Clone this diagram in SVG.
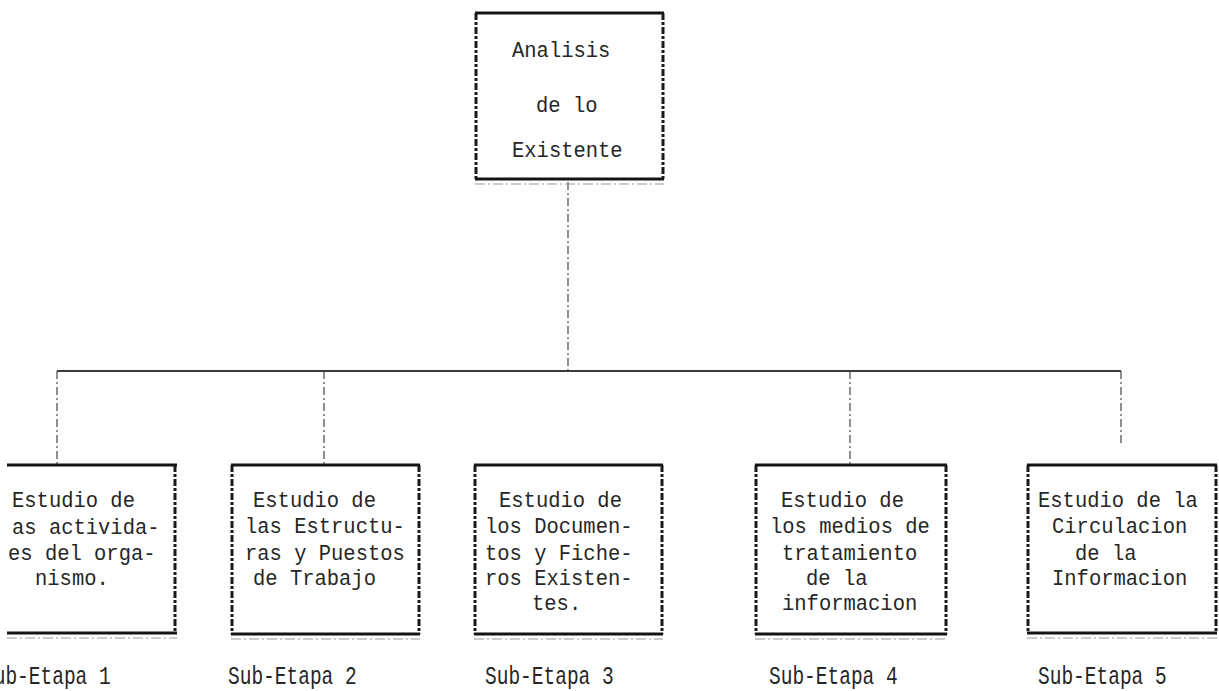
<svg xmlns="http://www.w3.org/2000/svg" width="1219" height="691" viewBox="0 0 1219 691">
  <style>
    .bg { fill: #ffffff; }
    .edge-h { stroke: #141414; stroke-width: 3; fill: none; }
    .edge-v { stroke: #1a1a1a; stroke-width: 3; fill: none; stroke-dasharray: 7 2 3 2; }
    .edge-shadow { stroke: #9a9a9a; stroke-width: 1.2; fill: none; stroke-dasharray: 10 3 2 3; }
    .txt { font-family: "Liberation Mono", "DejaVu Sans Mono", monospace; font-size: 20.5px; fill: #262626; }
    .lbl { font-family: "Liberation Mono", "DejaVu Sans Mono", monospace; font-size: 19.5px; fill: #262626; }
    .wire { stroke: #555555; stroke-width: 1.3; fill: none; stroke-dasharray: 8 3 2 3; }
    .bus { stroke: #3a3a3a; stroke-width: 2; fill: none; }
  </style>
  <rect class="bg" x="0" y="0" width="1219" height="691"/>

  <!-- connectors -->
  <g id="connectors">
    <line class="wire" x1="568" y1="182" x2="568" y2="371"/>
    <line class="bus" x1="57" y1="371" x2="1121" y2="371"/>
    <line class="wire" x1="57" y1="371" x2="57" y2="464"/>
    <line class="wire" x1="324" y1="371" x2="324" y2="464"/>
    <line class="wire" x1="850" y1="371" x2="850" y2="464"/>
    <line class="wire" x1="1121" y1="371" x2="1121" y2="443"/>
  </g>

  <!-- root node -->
  <g id="node-analisis">
    <line class="edge-h" x1="475" y1="13" x2="664" y2="13"/>
    <line class="edge-h" x1="475" y1="179" x2="664" y2="179"/>
    <line class="edge-v" x1="476" y1="13" x2="476" y2="179"/>
    <line class="edge-v" x1="663" y1="13" x2="663" y2="179"/>
    <line class="edge-shadow" x1="475" y1="184" x2="664" y2="184"/>
    <text class="txt" transform="translate(512,57) scale(1,1.12)">Analisis</text>
    <text class="txt" transform="translate(536,112) scale(1,1.12)">de lo</text>
    <text class="txt" transform="translate(512,157) scale(1,1.12)">Existente</text>
  </g>

  <!-- sub-stage 1 (left side runs off the sheet) -->
  <g id="node-sub1">
    <line class="edge-h" x1="7" y1="465" x2="177" y2="465"/>
    <line class="edge-h" x1="7" y1="633" x2="177" y2="633"/>
    <line class="edge-v" x1="175" y1="465" x2="175" y2="633"/>
    <line class="edge-shadow" x1="7" y1="638" x2="177" y2="638"/>
    <text class="txt" transform="translate(12,507) scale(1,1.12)">Estudio de</text>
    <text class="txt" transform="translate(12,534) scale(1,1.12)">as activida-</text>
    <text class="txt" transform="translate(8,560) scale(1,1.12)">es del orga-</text>
    <text class="txt" transform="translate(35,585) scale(1,1.12)">nismo.</text>
    <text class="lbl" transform="translate(-18,684) scale(1,1.3)">Sub-Etapa 1</text>
  </g>

  <!-- sub-stage 2 -->
  <g id="node-sub2">
    <line class="edge-h" x1="231" y1="465" x2="420" y2="465"/>
    <line class="edge-h" x1="231" y1="634" x2="420" y2="634"/>
    <line class="edge-v" x1="232" y1="465" x2="232" y2="634"/>
    <line class="edge-v" x1="419" y1="465" x2="419" y2="634"/>
    <line class="edge-shadow" x1="231" y1="639" x2="420" y2="639"/>
    <text class="txt" transform="translate(253,507) scale(1,1.12)">Estudio de</text>
    <text class="txt" transform="translate(245,533) scale(1,1.12)">las Estructu-</text>
    <text class="txt" transform="translate(245,560) scale(1,1.12)">ras y Puestos</text>
    <text class="txt" transform="translate(253,585) scale(1,1.12)">de Trabajo</text>
    <text class="lbl" transform="translate(228,684) scale(1,1.3)">Sub-Etapa 2</text>
  </g>

  <!-- sub-stage 3 -->
  <g id="node-sub3">
    <line class="edge-h" x1="474" y1="465" x2="663" y2="465"/>
    <line class="edge-h" x1="474" y1="634" x2="663" y2="634"/>
    <line class="edge-v" x1="475" y1="465" x2="475" y2="634"/>
    <line class="edge-v" x1="662" y1="465" x2="662" y2="634"/>
    <line class="edge-shadow" x1="474" y1="639" x2="663" y2="639"/>
    <text class="txt" transform="translate(499,507) scale(1,1.12)">Estudio de</text>
    <text class="txt" transform="translate(485,533) scale(1,1.12)">los Documen-</text>
    <text class="txt" transform="translate(485,560) scale(1,1.12)">tos y Fiche-</text>
    <text class="txt" transform="translate(485,585) scale(1,1.12)">ros Existen-</text>
    <text class="txt" transform="translate(532,610) scale(1,1.12)">tes.</text>
    <text class="lbl" transform="translate(485,684) scale(1,1.3)">Sub-Etapa 3</text>
  </g>

  <!-- sub-stage 4 -->
  <g id="node-sub4">
    <line class="edge-h" x1="755" y1="465" x2="947" y2="465"/>
    <line class="edge-h" x1="755" y1="634" x2="947" y2="634"/>
    <line class="edge-v" x1="756" y1="465" x2="756" y2="634"/>
    <line class="edge-v" x1="946" y1="465" x2="946" y2="634"/>
    <line class="edge-shadow" x1="755" y1="639" x2="947" y2="639"/>
    <text class="txt" transform="translate(781,507) scale(1,1.12)">Estudio de</text>
    <text class="txt" transform="translate(770,533) scale(1,1.12)">los medios de</text>
    <text class="txt" transform="translate(782,560) scale(1,1.12)">tratamiento</text>
    <text class="txt" transform="translate(806,585) scale(1,1.12)">de la</text>
    <text class="txt" transform="translate(782,610) scale(1,1.12)">informacion</text>
    <text class="lbl" transform="translate(769,684) scale(1,1.3)">Sub-Etapa 4</text>
  </g>

  <!-- sub-stage 5 -->
  <g id="node-sub5">
    <line class="edge-h" x1="1027" y1="465" x2="1217" y2="465"/>
    <line class="edge-h" x1="1027" y1="633" x2="1217" y2="633"/>
    <line class="edge-v" x1="1028" y1="465" x2="1028" y2="633"/>
    <line class="edge-v" x1="1216" y1="465" x2="1216" y2="633"/>
    <line class="edge-shadow" x1="1027" y1="638" x2="1217" y2="638"/>
    <text class="txt" transform="translate(1038,507) scale(1,1.12)">Estudio de la</text>
    <text class="txt" transform="translate(1052,533) scale(1,1.12)">Circulacion</text>
    <text class="txt" transform="translate(1075,560) scale(1,1.12)">de la</text>
    <text class="txt" transform="translate(1052,585) scale(1,1.12)">Informacion</text>
    <text class="lbl" transform="translate(1038,684) scale(1,1.3)">Sub-Etapa 5</text>
  </g>
</svg>
